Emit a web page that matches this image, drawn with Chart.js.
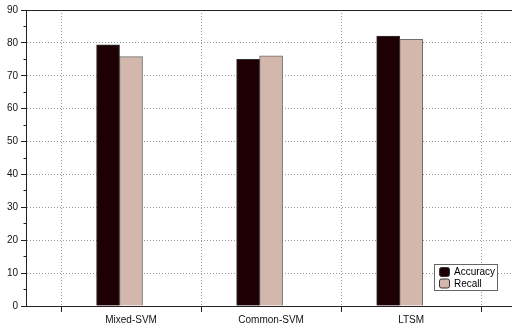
<!DOCTYPE html>
<html>
<head>
<meta charset="utf-8">
<script src="https://cdn.jsdelivr.net/npm/chart.js@4/dist/chart.umd.min.js"></script>
<style>
    html, body { margin: 0; padding: 0; background: #fff; overflow: hidden; }
    #wrap { position: relative; width: 512px; height: 329px; }
</style>
</head>
<body>
<div id="wrap"><canvas id="barChart"></canvas></div>
<script>
// dados
const categorias = ['Mixed-SVM', 'Common-SVM', 'LTSM'];
const accuracy = [79.4, 75.0, 82.1];
const recall = [75.8, 76.1, 81.1];
const yTicks = [0, 10, 20, 30, 40, 50, 60, 70, 80, 90];

const corAccuracy = '#1e0004';
const corRecall = '#d3b6ac';

const isInt = v => Math.abs(v - Math.round(v)) < 1e-6;

// legenda desenhada dentro da area do grafico (canto inferior direito)
const legendaBox = {
    id: 'legendaBox',
    afterDraw(chart) {
        const ctx = chart.ctx;
        const area = chart.chartArea;
        const itens = chart.data.datasets.filter(d => d.label);
        const w = 64, h = 27;
        const x = 434, y = area.bottom - 15 - h;
        ctx.save();
        ctx.fillStyle = '#fff';
        ctx.fillRect(x, y, w, h);
        ctx.strokeStyle = '#666';
        ctx.lineWidth = 1;
        ctx.strokeRect(x + 0.5, y + 0.5, w - 1, h - 1);
        ctx.font = '10px "Liberation Sans", Arial, sans-serif';
        ctx.textBaseline = 'middle';
        itens.forEach((d, i) => {
            const cy = y + 8 + i * 11.5;
            ctx.beginPath();
            ctx.roundRect(x + 5.5, cy - 4.5, 10, 9, 2);
            ctx.fillStyle = d.backgroundColor;
            ctx.fill();
            ctx.strokeStyle = '#333';
            ctx.stroke();
            ctx.fillStyle = '#000';
            ctx.fillText(d.label, x + 20, cy + 0.5);
        });
        ctx.restore();
    }
};

try {
    const ctx = document.getElementById('barChart').getContext('2d');
    new Chart(ctx, {
        type: 'bar',
        data: {
            datasets: [
                {
                    label: 'Accuracy',
                    data: accuracy.map((v, i) => ({ x: i, y: v })),
                    backgroundColor: corAccuracy,
                    borderColor: '#333',
                    borderWidth: 1
                },
                {
                    label: 'Recall',
                    data: recall.map((v, i) => ({ x: i, y: v })),
                    backgroundColor: corRecall,
                    borderColor: '#6e6e6e',
                    borderWidth: 1
                },
                {
                    // espaco vazio do grupo (o original deixa um terceiro slot)
                    label: '',
                    data: categorias.map((c, i) => ({ x: i, y: null })),
                    backgroundColor: 'transparent'
                }
            ]
        },
        options: {
            animation: false,
            responsive: true,
            maintainAspectRatio: false,
            barThickness: 23,
            layout: { padding: { top: 10, right: 0, bottom: 0, left: 0 } },
            plugins: {
                legend: { display: false },
                tooltip: { enabled: false }
            },
            scales: {
                x: {
                    type: 'linear',
                    min: -0.75,
                    max: 2.72,
                    offset: false,
                    afterBuildTicks(scale) {
                        const t = [];
                        for (let v = -0.5; v <= categorias.length - 0.5; v += 0.5) t.push({ value: v });
                        scale.ticks = t;
                    },
                    afterFit(scale) { scale.height = 23; },
                    grid: {
                        offset: false,
                        color: c => isInt(c.tick.value) ? 'transparent' : '#9a9a9a',
                        tickColor: c => isInt(c.tick.value) ? 'transparent' : '#222',
                        tickLength: 6,
                        lineWidth: 1
                    },
                    border: { display: true, color: '#222', width: 1, dash: [1, 2] },
                    ticks: {
                        autoSkip: false,
                        maxRotation: 0,
                        padding: 2,
                        color: '#111',
                        font: { family: '"Liberation Sans", Arial, sans-serif', size: 10 },
                        callback: v => isInt(v) ? (categorias[Math.round(v)] || '') : ''
                    }
                },
                y: {
                    min: 0,
                    max: 90,
                    afterBuildTicks(scale) {
                        const t = [];
                        for (let v = 0; v <= 90; v += 5) t.push({ value: v });
                        scale.ticks = t;
                    },
                    afterFit(scale) { scale.width = 26; },
                    grid: {
                        color: c => c.tick.value === 90 ? '#222' : (yTicks.includes(c.tick.value) ? '#9a9a9a' : 'transparent'),
                        tickColor: '#222',
                        tickLength: 5,
                        // tracos menores (de 5 em 5) so junto ao eixo
                        tickBorderDash: c => yTicks.includes(c.tick.value) ? [] : [0, 2.5, 3, 10]
                    },
                    border: {
                        display: true,
                        color: '#222',
                        width: 1,
                        dash: c => (c.tick && c.tick.value === 90) ? [] : [1, 2]
                    },
                    ticks: {
                        autoSkip: false,
                        padding: 3,
                        color: '#111',
                        font: { family: '"Liberation Sans", Arial, sans-serif', size: 10 },
                        callback: v => yTicks.includes(v) ? String(v) : ''
                    }
                }
            }
        },
        plugins: [legendaBox]
    });
} catch (error) {
    console.error('Erro ao montar gráfico:', error);
}
</script>
</body>
</html>
